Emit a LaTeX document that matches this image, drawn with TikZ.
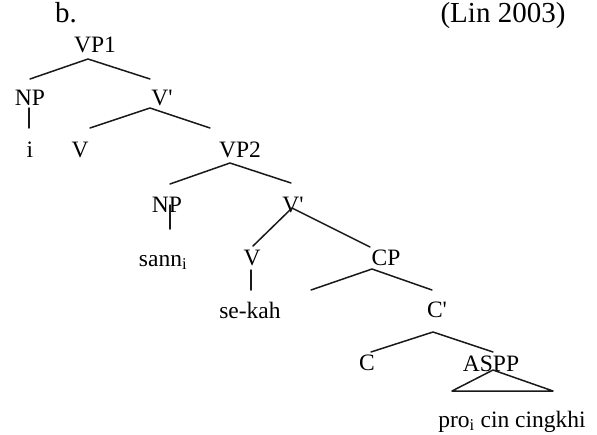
\documentclass[tikz,border=0pt]{standalone}
\usepackage{fontspec}
\newfontfamily\treefont{Liberation Serif}
\begin{document}
\begin{tikzpicture}[x=1pt,y=-1pt,
  lbl/.style={anchor=base,inner sep=0pt,font=\treefont\fontsize{23.5}{28}\selectfont},
  head/.style={anchor=base,inner sep=0pt,font=\treefont\fontsize{29}{34}\selectfont},
  branch/.style={line width=1.5pt,line cap=round,line join=round,black!90}]
\useasboundingbox (0,0) rectangle (597,434);

% heading
\node[head] (ex)  at (66,22)  {b.};
\node[head] (src) at (503,22) {(Lin 2003)};

% tree labels
\node[lbl] (VP1)  at (95,52)   {VP1};
\node[lbl] (NP1)  at (30,105)  {NP};
\node[lbl] (Vb1)  at (162,105) {V'};
\node[lbl] (i)    at (30,157)  {i};
\node[lbl] (V1)   at (80,157)  {V};
\node[lbl] (VP2)  at (240,157) {VP2};
\node[lbl] (NP2)  at (167,212) {NP};
\node[lbl] (Vb2)  at (293,212) {V'};
\node[lbl] (sann) at (163,266) {sann\textsubscript{i}};
\node[lbl] (V2)   at (252,265) {V};
\node[lbl] (CP)   at (386,265) {CP};
\node[lbl] (sekah) at (250,318) {se-kah};
\node[lbl] (Cb)   at (437,317) {C'};
\node[lbl] (C)    at (367,370) {C};
\node[lbl] (ASPP) at (491,371) {ASPP};
\node[lbl] (pro)  at (512,427) {pro\textsubscript{i} cin cingkhi};

% empty specifier of CP
\coordinate (spec) at (311,290);

% branches
\draw[branch] ([shift={(0,-26)}]NP1.base) -- ([shift={(-7,7)}]VP1.base) -- ([shift={(-12,-26)}]Vb1.base);
\draw[branch] ([shift={(-1,3)}]NP1.base) -- ([shift={(-1,-29)}]i.base);
\draw[branch] ([shift={(10,-29)}]V1.base) -- ([shift={(-12,3)}]Vb1.base) -- ([shift={(-30,-29)}]VP2.base);
\draw[branch] ([shift={(3,-28)}]NP2.base) -- ([shift={(-10,6)}]VP2.base) -- ([shift={(-2,-29)}]Vb2.base);
\draw[branch] ([shift={(3,-7)}]NP2.base) -- ([shift={(7,-37)}]sann.base);
\draw[branch] ([shift={(1,-19)}]V2.base) -- ([shift={(-1,-4)}]Vb2.base) -- ([shift={(-16,-18)}]CP.base);
\draw[branch] ([shift={(-1,5)}]V2.base) -- ([shift={(1,-28)}]sekah.base);
\draw[branch] (spec) -- ([shift={(-14,4)}]CP.base) -- ([shift={(-5,-27)}]Cb.base);
\draw[branch] ([shift={(4,-18)}]C.base) -- ([shift={(-4,15)}]Cb.base) -- ([shift={(2,-19)}]ASPP.base);
\draw[branch] ([shift={(2,-1)}]ASPP.base) -- ([shift={(-60,-36)}]pro.base) -- ([shift={(41,-36)}]pro.base) -- cycle;
\end{tikzpicture}
\end{document}
